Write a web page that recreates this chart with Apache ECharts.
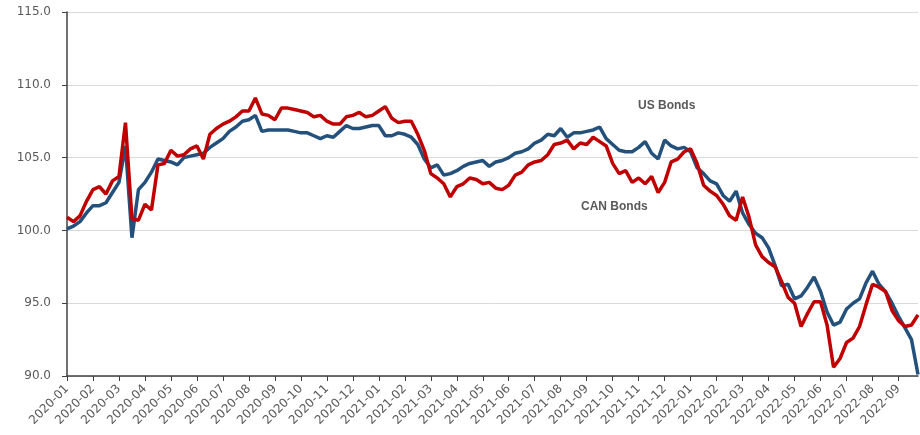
<!DOCTYPE html>
<html>
<head>
<meta charset="utf-8">
<script src="https://cdn.jsdelivr.net/npm/echarts@6/dist/echarts.min.js"></script>
<style>html,body{margin:0;padding:0;background:#fff}#chart{width:920px;height:435px}</style>
</head>
<body>
<div id="chart"></div>
<script>
// Month tick labels (x axis)
const months = ['2020-01','2020-02','2020-03','2020-04','2020-05','2020-06','2020-07','2020-08','2020-09','2020-10','2020-11','2020-12',
  '2021-01','2021-02','2021-03','2021-04','2021-05','2021-06','2021-07','2021-08','2021-09','2021-10','2021-11','2021-12',
  '2022-01','2022-02','2022-03','2022-04','2022-05','2022-06','2022-07','2022-08','2022-09'];
// Y tick values
const yTicks = [90, 95, 100, 105, 110, 115];
// Sampling step of the series, in months (about one week)
const STEP = 0.25;
// US Bonds index (weekly samples from 2020-01 start)
const usBonds = [
  100.1,100.3,100.6,101.2,101.7,101.7,101.9,102.6,103.3,105.8,
  99.5,102.8,103.3,104.0,104.9,104.8,104.7,104.5,105.0,105.1,
  105.2,105.3,105.7,106.0,106.3,106.8,107.1,107.5,107.6,107.9,
  106.8,106.9,106.9,106.9,106.9,106.8,106.7,106.7,106.5,106.3,
  106.5,106.4,106.8,107.2,107.0,107.0,107.1,107.2,107.2,106.5,
  106.5,106.7,106.6,106.4,105.9,104.9,104.3,104.5,103.8,103.9,
  104.1,104.4,104.6,104.7,104.8,104.4,104.7,104.8,105.0,105.3,
  105.4,105.6,106.0,106.2,106.6,106.5,107.0,106.4,106.7,106.7,
  106.8,106.9,107.1,106.3,105.9,105.5,105.4,105.4,105.7,106.1,
  105.3,104.9,106.2,105.8,105.6,105.7,105.4,104.3,103.9,103.4,
  103.2,102.4,102.0,102.7,101.2,100.4,99.8,99.5,98.8,97.6,
  96.2,96.3,95.3,95.5,96.1,96.8,95.8,94.4,93.5,93.7,
  94.6,95.0,95.3,96.4,97.2,96.3,95.8,95.0,94.1,93.3,
  92.5,90.1
];
// CAN Bonds index (weekly samples from 2020-01 start)
const canBonds = [
  100.9,100.6,101.0,102.0,102.8,103.0,102.5,103.4,103.7,107.4,
  100.8,100.7,101.8,101.4,104.5,104.6,105.5,105.1,105.2,105.6,
  105.8,104.9,106.6,107.0,107.3,107.5,107.8,108.2,108.2,109.1,
  108.0,107.9,107.6,108.4,108.4,108.3,108.2,108.1,107.8,107.9,
  107.5,107.3,107.3,107.8,107.9,108.1,107.8,107.9,108.2,108.5,
  107.7,107.4,107.5,107.5,106.6,105.5,103.9,103.6,103.2,102.3,
  103.0,103.2,103.6,103.5,103.2,103.3,102.9,102.8,103.1,103.8,
  104.0,104.5,104.7,104.8,105.2,105.9,106.0,106.2,105.6,106.0,
  105.9,106.4,106.1,105.8,104.6,103.9,104.1,103.3,103.6,103.2,
  103.7,102.6,103.3,104.7,104.9,105.4,105.6,104.6,103.1,102.7,
  102.4,101.8,101.0,100.7,102.3,100.9,99.0,98.2,97.8,97.5,
  96.5,95.4,95.0,93.4,94.3,95.1,95.1,93.5,90.6,91.2,
  92.3,92.6,93.4,94.9,96.3,96.1,95.8,94.5,93.8,93.4,
  93.5,94.2
];
const seriesNames = ['US Bonds', 'CAN Bonds'];

const toPairs = arr => arr.map((v, i) => [i * STEP, v]);
const monthTicks = months.map((m, i) => i);
const xMax = (usBonds.length - 1) * STEP;
const FONT = 'DejaVu Sans';
const TXT = '#595959';

const chart = echarts.init(document.getElementById('chart'), null, {renderer: 'canvas'});
chart.setOption({
  animation: false,
  backgroundColor: '#ffffff',
  grid: {left: 67, top: 12, right: 2, bottom: 59, containLabel: false},
  xAxis: {
    type: 'value', min: 0, max: xMax,
    axisLine: {show: true, onZero: false, lineStyle: {color: '#404040', width: 1.5}},
    axisTick: {show: true, length: 5, customValues: monthTicks, lineStyle: {color: '#404040'}},
    axisLabel: {
      customValues: monthTicks, rotate: 45, margin: 11,
      fontFamily: FONT, fontSize: 12, color: TXT,
      formatter: v => months[Math.round(v)] || ''
    },
    splitLine: {show: false}
  },
  yAxis: {
    type: 'value', min: yTicks[0], max: yTicks[yTicks.length - 1], interval: 5,
    axisLine: {show: true, lineStyle: {color: '#404040', width: 1.5}},
    axisTick: {show: true, length: 5, lineStyle: {color: '#404040'}},
    axisLabel: {margin: 16, fontFamily: FONT, fontSize: 12, color: TXT, formatter: v => v.toFixed(1)},
    splitLine: {show: true, lineStyle: {color: '#d9d9d9', width: 1}}
  },
  series: [
    {name: seriesNames[0], type: 'line', data: toPairs(usBonds), showSymbol: false, symbol: 'none',
     lineStyle: {color: '#24507c', width: 3.5}, itemStyle: {color: '#24507c'}, z: 2},
    {name: seriesNames[1], type: 'line', data: toPairs(canBonds), showSymbol: false, symbol: 'none',
     lineStyle: {color: '#c00000', width: 3.5}, itemStyle: {color: '#c00000'}, z: 3}
  ],
  graphic: [
    {type: 'text', left: 638, top: 100, style: {text: seriesNames[0], fontFamily: 'Liberation Sans', fontWeight: 'bold', fontSize: 12, fill: TXT}},
    {type: 'text', left: 581, top: 201, style: {text: seriesNames[1], fontFamily: 'Liberation Sans', fontWeight: 'bold', fontSize: 12, fill: TXT}}
  ]
});
</script>
</body>
</html>
